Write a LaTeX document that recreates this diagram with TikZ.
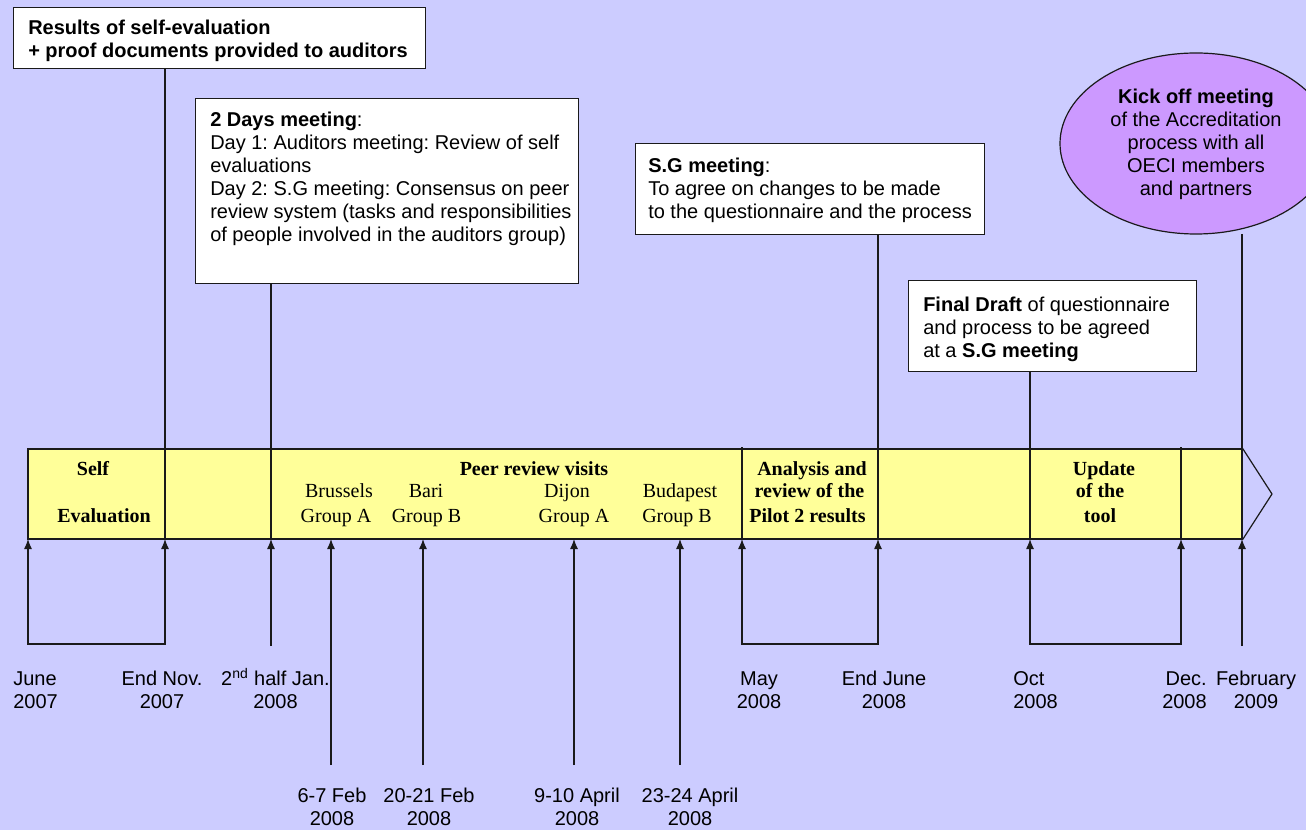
\documentclass[tikz,border=0pt]{standalone}
\usepackage{fontspec}
\setmainfont{Liberation Serif}
\setsansfont{Liberation Sans}
\usetikzlibrary{arrows.meta,shapes.geometric}
\definecolor{bgc}{HTML}{CCCCFF}
\definecolor{bandc}{HTML}{FFFF99}
\definecolor{ellc}{HTML}{CC99FF}
\definecolor{linec}{HTML}{1A1A1A}
\frenchspacing
\tikzset{
 conn/.style={draw=linec, line width=0.9pt},
 arr/.style={conn, -{Latex[length=7.5pt,width=6pt]}},
 biarr/.style={conn, {Latex[length=7.5pt,width=6pt]}-{Latex[length=7.5pt,width=6pt]}},
 box/.style={draw=linec, fill=white, line width=0.9pt, inner sep=0pt, anchor=north west},
 stxt/.style={font=\sffamily\fontsize{15}{17.25}\selectfont, inner sep=0pt, align=left, anchor=base west},
 dlab/.style={font=\sffamily\fontsize{15}{17.25}\selectfont, inner sep=0pt, align=center, anchor=base},
 btxt/.style={font=\rmfamily\fontsize{15}{17.25}\selectfont, inner sep=0pt, anchor=base},
 bbold/.style={font=\rmfamily\bfseries\fontsize{15}{17.25}\selectfont, inner sep=0pt, anchor=base},
}
\begin{document}
\begin{tikzpicture}[x=0.75pt,y=-0.75pt]
\useasboundingbox (0,0) rectangle (1306,830);
\clip (0,0) rectangle (1306,830);
\fill[bgc] (0,0) rectangle (1306,830);

% timeline band
\node[draw=linec, fill=bandc, line width=0.9pt, minimum width={1214*0.75pt}, minimum height={90*0.75pt}, inner sep=0pt] (band) at (635,494) {};
\coordinate (tip) at (1272,494);
\draw[conn] (band.north east) -- (tip) -- (band.south east);

% tick coordinates at band bottom
\coordinate (k1) at (28,539);
\coordinate (k2) at (165,539);
\coordinate (k3) at (271,539);
\coordinate (k4) at (331,539);
\coordinate (k5) at (423,539);
\coordinate (k6) at (574,539);
\coordinate (k7) at (680,539);
\coordinate (k8) at (742,539);
\coordinate (k9) at (878,539);
\coordinate (k10) at (1030,539);
\coordinate (k11) at (1181,539);
\coordinate (k12) at (1242,539);
\coordinate (d8) at (742,447);
\coordinate (d11) at (1181,447);

% boxes
\node[box, minimum width={412*0.75pt}, minimum height={61*0.75pt}] (b1) at (13,7) {};
\node[box, minimum width={383*0.75pt}, minimum height={185*0.75pt}] (b2) at (195,98) {};
\node[box, minimum width={349*0.75pt}, minimum height={91*0.75pt}] (b3) at (635,143) {};
\node[box, minimum width={288*0.75pt}, minimum height={91*0.75pt}] (b4) at (908,280) {};
\node[ellipse, draw=linec, fill=ellc, line width=0.9pt, minimum width={272*0.75pt}, minimum height={181*0.75pt}, inner sep=0pt] (ell) at (1196,143.5) {};

% connectors from boxes
\draw[conn] (b1.south -| k2) -- (k2);
\draw[conn] (b2.south -| k3) -- (k3);
\draw[conn] (b3.south -| k9) -- (k9);
\draw[conn] (b4.south -| k10) -- (k10);
\coordinate (e0) at (1242,234);
\draw[conn] (e0) -- (k12);
\draw[conn] (d8) -- (k8);
\draw[conn] (d11) -- (k11);

% lower coordinates
\coordinate (q1) at (28,644);
\coordinate (q2) at (165,644);
\coordinate (q3) at (271,646);
\coordinate (q4) at (331,765);
\coordinate (q5) at (423,765);
\coordinate (q6) at (574,765);
\coordinate (q7) at (680,765);
\coordinate (q8) at (742,644);
\coordinate (q9) at (878,644);
\coordinate (q10) at (1030,644);
\coordinate (q11) at (1181,644);
\coordinate (q12) at (1242,646);

\draw[biarr] (k1) -- (q1) -- (q2) -- (k2);
\draw[arr] (q3) -- (k3);
\draw[arr] (q4) -- (k4);
\draw[arr] (q5) -- (k5);
\draw[arr] (q6) -- (k6);
\draw[arr] (q7) -- (k7);
\draw[biarr] (k8) -- (q8) -- (q9) -- (k9);
\draw[biarr] (k10) -- (q10) -- (q11) -- (k11);
\draw[arr] (q12) -- (k12);

% box texts (base anchor = baseline of last line)
\node[stxt] (t1) at (28,57.5) {\bfseries Results of self-evaluation\\\bfseries + proof documents provided to auditors};
\node[stxt] (t2) at (210,242) {\textbf{2 Days meeting}:\\Day 1: Auditors meeting: Review of self\\evaluations\\Day 2: S.G meeting: Consensus on peer\\review system (tasks and responsibilities\\of people involved in the auditors group)};
\node[stxt] (t3) at (648,219) {\textbf{S.G meeting}:\\To agree on changes to be made\\to the questionnaire and the process};
\node[stxt] (t4) at (923,358) {\textbf{Final Draft} of questionnaire\\and process to be agreed\\at a \textbf{S.G meeting}};
\node[dlab] (t5) at (1196,195.3) {\textbf{Kick off meeting}\\of the Accreditation\\process with all\\OECI members\\and partners};

% band texts
\node[bbold] (s1) at (93,475) {Self};
\node[bbold] (s2) at (104,522) {Evaluation};
\node[bbold] (p1) at (534,475) {Peer review visits};
\node[btxt] (c1) at (339,497) {Brussels};
\node[btxt] (c2) at (336,522) {Group A};
\node[btxt] (c3) at (426,497) {Bari};
\node[btxt] (c4) at (426.5,522) {Group B};
\node[btxt] (c5) at (567,497) {Dijon};
\node[btxt] (c6) at (574,522) {Group A};
\node[btxt] (c7) at (680,497) {Budapest};
\node[btxt] (c8) at (677,522) {Group B};
\node[bbold] (a1) at (812,475) {Analysis and};
\node[bbold] (a2) at (809.5,497) {review of the};
\node[bbold] (a3) at (807.5,522) {Pilot 2 results};
\node[bbold] (u1) at (1104,475) {Update};
\node[bbold] (u2) at (1100,497) {of the};
\node[bbold] (u3) at (1100,522) {tool};

% date labels (base anchor = baseline of last line)
\node[dlab, anchor=base west, align=left] (l1) at (13,708) {June\\2007};
\node[dlab] (l2) at (162,708) {End Nov.\\2007};
\node[dlab] (l3) at (275.5,708) {2\textsuperscript{nd} half Jan.\\2008};
\node[dlab] (l4) at (759,708) {May\\2008};
\node[dlab] (l5) at (884,708) {End June\\2008};
\node[dlab, anchor=base west, align=left] (l6) at (1013,708) {Oct\\2008};
\node[dlab, anchor=base east, align=right] (l7) at (1207,708) {Dec.\\2008};
\node[dlab] (l8) at (1256,708) {February\\2009};
\node[dlab] (l9) at (332,825) {6-7 Feb\\2008};
\node[dlab] (l10) at (429,825) {20-21 Feb\\2008};
\node[dlab] (l11) at (577,825) {9-10 April\\2008};
\node[dlab] (l12) at (690,825) {23-24 April\\2008};
\end{tikzpicture}
\end{document}
